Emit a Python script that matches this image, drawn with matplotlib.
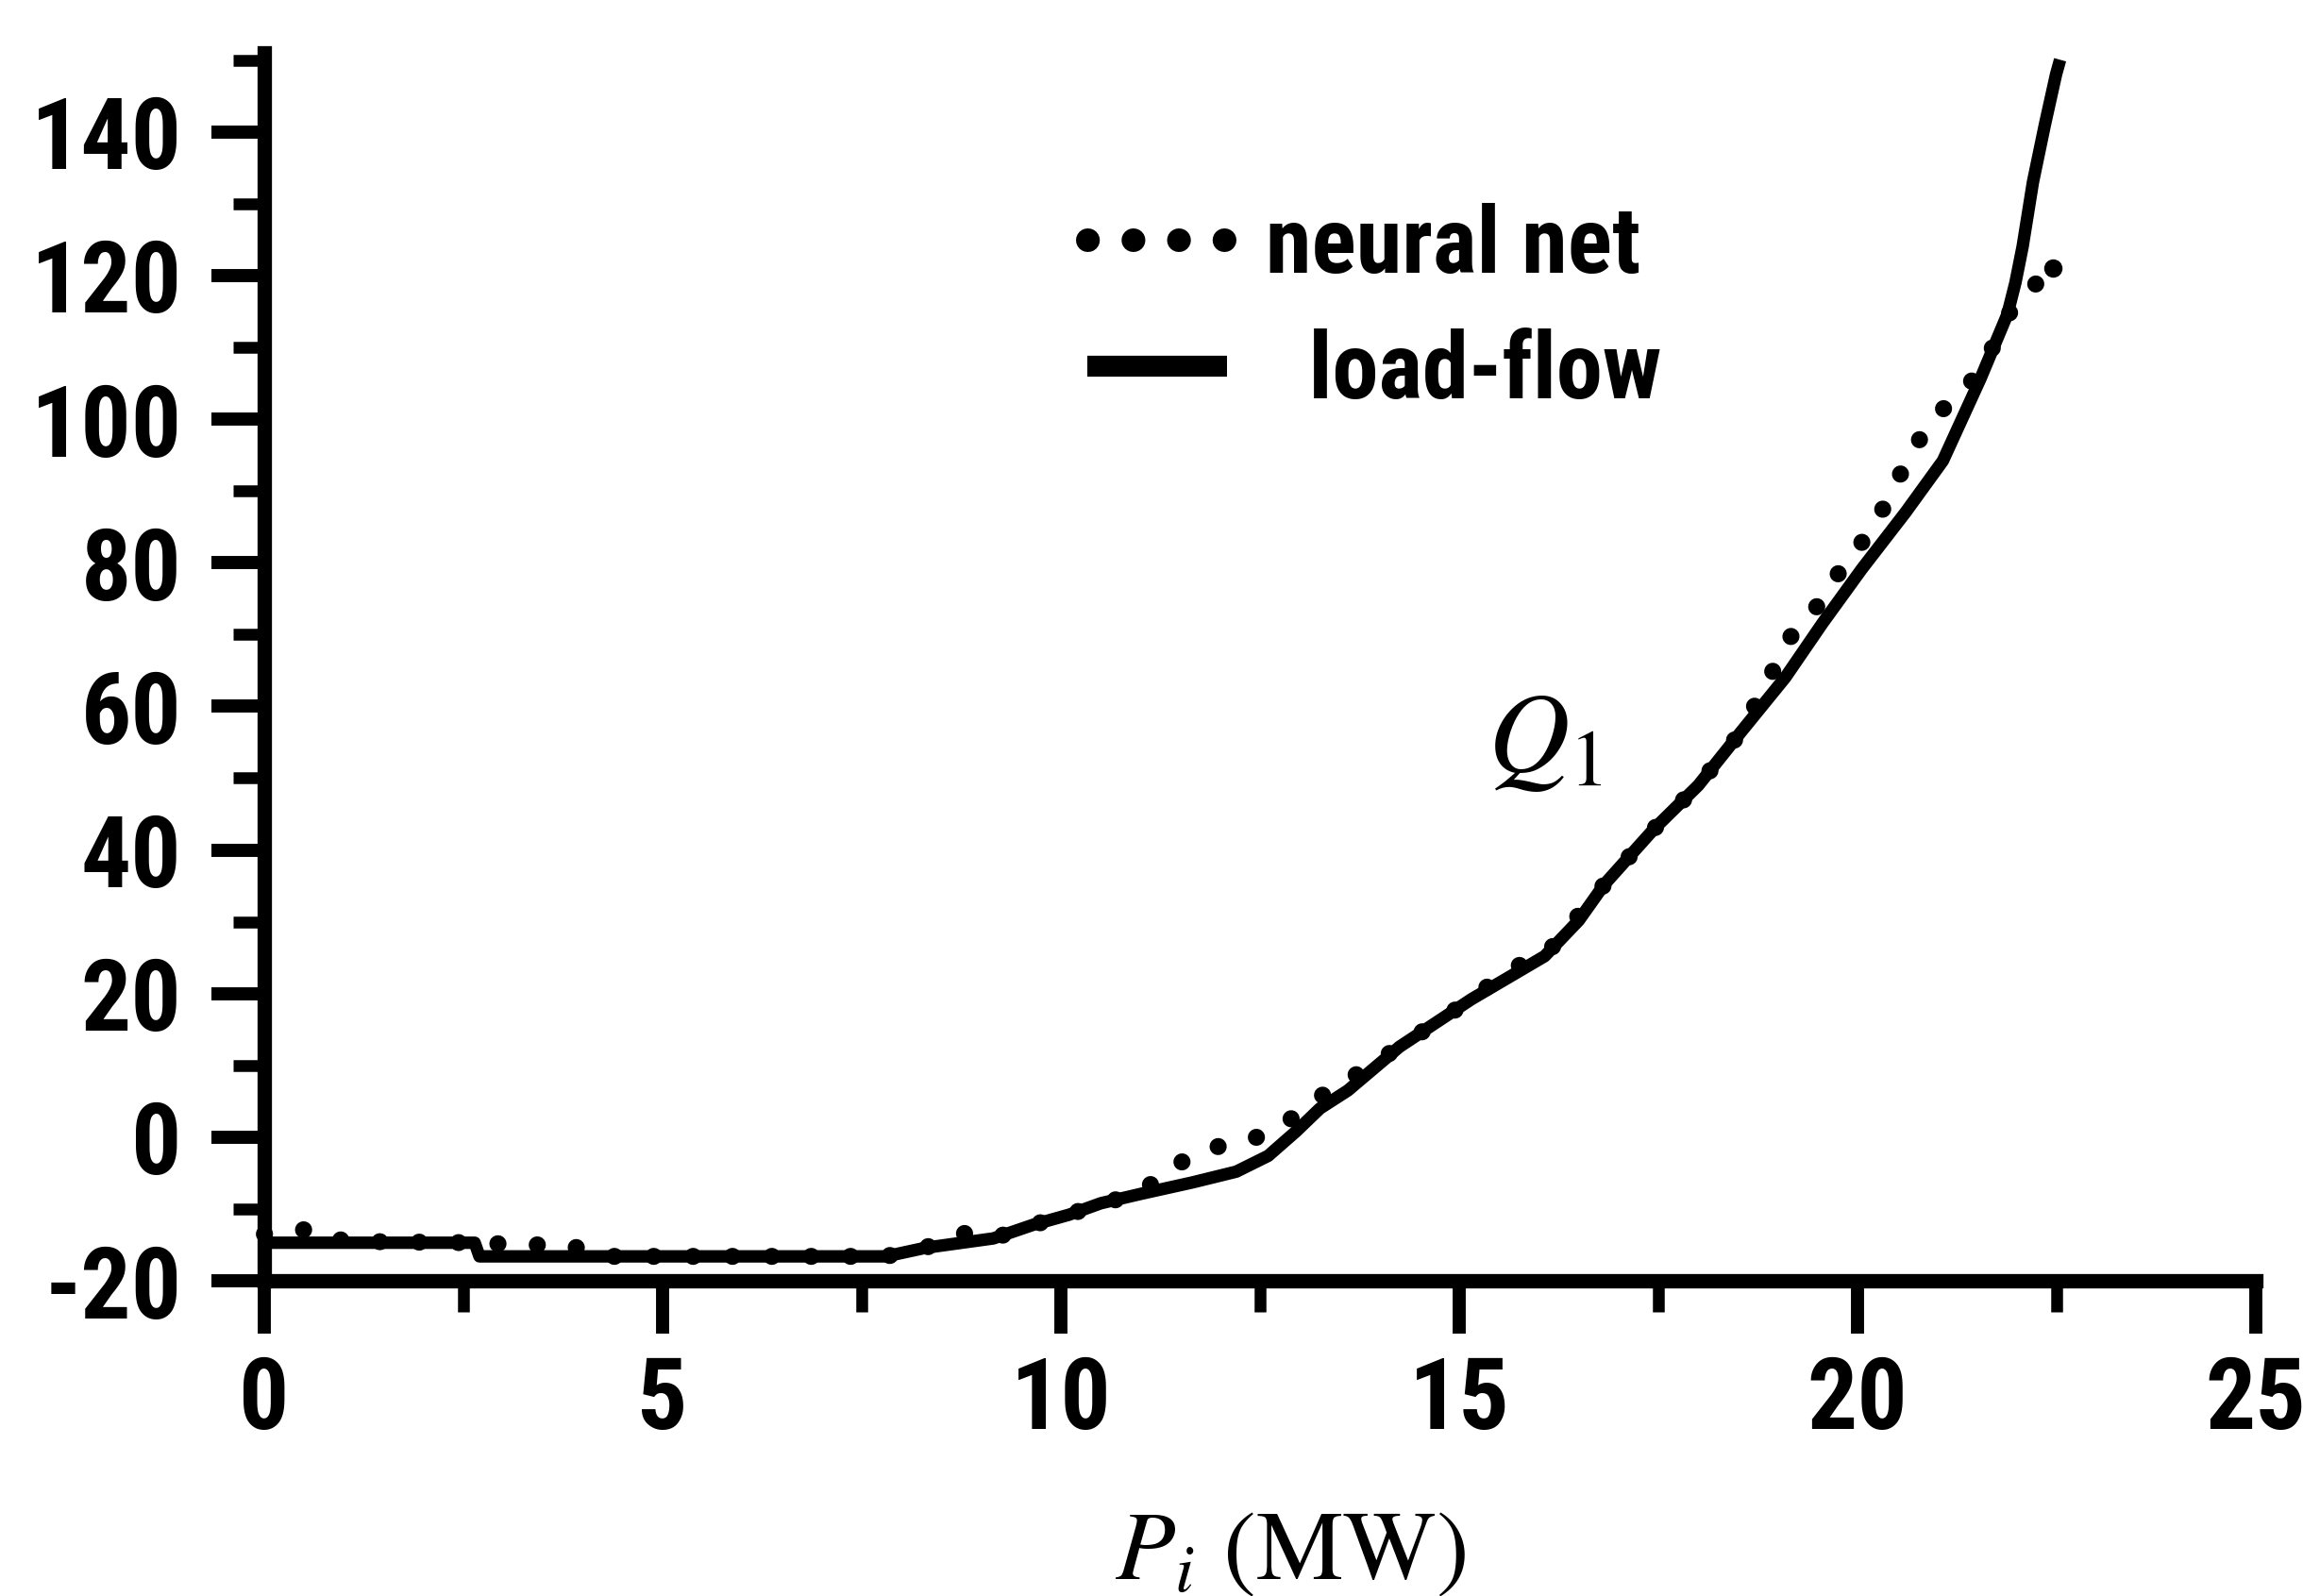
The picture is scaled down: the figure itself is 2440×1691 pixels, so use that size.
import os
import matplotlib
matplotlib.use("Agg")
import matplotlib.pyplot as plt
from matplotlib.lines import Line2D
from matplotlib.ticker import MultipleLocator
from matplotlib import font_manager as fm

# load-flow curve (P_i in MW, Q_1)
p_loadflow = [0.0, 2.64, 2.7, 7.8, 8.3, 9.15, 9.65, 10.1, 10.5, 11.0, 11.65, 12.2,
              12.6, 12.95, 13.25, 13.6, 14.25, 15.15, 16.07, 16.5, 16.82, 17.45,
              18.0, 18.54, 19.09, 19.56, 20.05, 20.6, 21.07, 21.54, 21.88, 21.98,
              22.07, 22.2, 22.35, 22.49, 22.52]
q_loadflow = [-14.7, -14.7, -16.6, -16.6, -15.4, -14.1, -12.2, -10.8, -9.2, -7.9,
              -6.3, -4.8, -2.6, 0.8, 4.0, 6.5, 12.6, 19.2, 25.2, 30.2, 35.2, 43.0,
              49.0, 56.5, 64.0, 71.6, 79.1, 87.0, 94.2, 105.6, 114.6, 119.0, 124.0,
              133.0, 141.0, 148.0, 149.2]

# neural net estimate
p_neural = [0.0, 0.35, 0.63, 1.0, 2.6, 3.3, 3.8, 4.3, 7.8, 8.3, 8.73, 9.15, 9.65,
            10.1, 10.5, 11.0, 11.33, 11.9, 12.46, 12.96, 13.3, 13.84, 14.25, 15.15,
            15.65, 16.07, 16.82, 17.45, 18.0, 18.54, 19.16, 19.47, 19.84, 20.18,
            20.42, 20.69, 21.0, 21.54, 21.96, 22.45]
q_neural = [-13.5, -13.0, -12.8, -14.5, -14.7, -15.0, -15.0, -16.6, -16.6, -15.4,
            -13.3, -14.1, -12.2, -10.8, -9.2, -7.9, -4.4, -1.5, 0.0, 3.0, 6.0, 9.6,
            12.6, 19.2, 23.5, 25.2, 35.2, 43.0, 49.0, 56.5, 69.7, 73.6, 79.9, 84.6,
            89.7, 95.8, 100.6, 106.5, 116.0, 121.0]

legend_labels = ["neural net", "  load-flow"]
x_ticks = [0, 5, 10, 15, 20, 25]
y_ticks = [-20, 0, 20, 40, 60, 80, 100, 120, 140]


def font_file(prefs):
    files = {}
    for f in fm.fontManager.ttflist:
        base = os.path.splitext(os.path.basename(f.fname))[0].lower()
        files[base] = f.fname
    for p in prefs:
        if p in files:
            return files[p]
    return None


narrow_file = font_file(["robotocondensed-bold", "pt_sans-narrow-web-bold",
                         "opensans-condbold", "dejavusanscondensed-bold"])
if narrow_file:
    tick_fp = fm.FontProperties(fname=narrow_file, size=76)
    leg_fp = fm.FontProperties(fname=narrow_file, size=71)
else:
    tick_fp = fm.FontProperties(family="Liberation Sans", weight="bold", size=62)
    leg_fp = fm.FontProperties(family="Liberation Sans", weight="bold", size=60)

plt.rcParams["axes.unicode_minus"] = False
plt.rcParams["mathtext.fontset"] = "stix"

fig = plt.figure(figsize=(24.4, 16.91), dpi=100)
ax = fig.add_axes([0.1148, 0.1975, 0.8648, 0.7694])

ax.plot(p_loadflow, q_loadflow, color="black", lw=9.5, clip_on=False)
ax.plot(p_neural, q_neural, color="black", lw=13, linestyle=(0, (0.01, 2.3)),
        dash_capstyle="round", clip_on=False)
# last neural-net sample stands alone as a dot
ax.plot(p_neural[-1:], q_neural[-1:], "o", color="black", ms=13, clip_on=False)

ax.set_xlim(0, 25)
ax.set_ylim(-20, 151)
ax.set_xticks(x_ticks)
ax.set_yticks(y_ticks)
ax.xaxis.set_minor_locator(MultipleLocator(2.5))
ax.yaxis.set_minor_locator(MultipleLocator(10))

for side in ["top", "right"]:
    ax.spines[side].set_visible(False)
for side in ["left", "bottom"]:
    ax.spines[side].set_linewidth(11)

ax.tick_params(which="major", direction="out", length=40, width=10, pad=23)
ax.tick_params(which="minor", direction="out", length=24, width=9)
ax.tick_params(axis="x", which="major", pad=16)
for lbl in ax.get_xticklabels() + ax.get_yticklabels():
    lbl.set_fontproperties(tick_fp)

# legend with thicker proxy handles
h_nn = Line2D([], [], color="black", lw=18, linestyle=(0, (0.01, 1.92)),
              dash_capstyle="round")
h_lf = Line2D([], [], color="black", lw=16, solid_capstyle="butt")
ax.legend([h_nn, h_lf], legend_labels, loc="upper left",
          bbox_to_anchor=(0.4133, 0.878), frameon=False, borderpad=0,
          borderaxespad=0, handlelength=1.5, handletextpad=0.41,
          labelspacing=0.4, prop=leg_fp)

ax.text(15.35, 51.0, r"$Q_1$", fontsize=86, ha="left", va="baseline")
fig.text(0.5602, 0.0112, r"$P_i$ (MW)", fontsize=75, ha="center",
         va="baseline", family="STIXGeneral", weight="normal")

fig.savefig("out.png", dpi=100)
